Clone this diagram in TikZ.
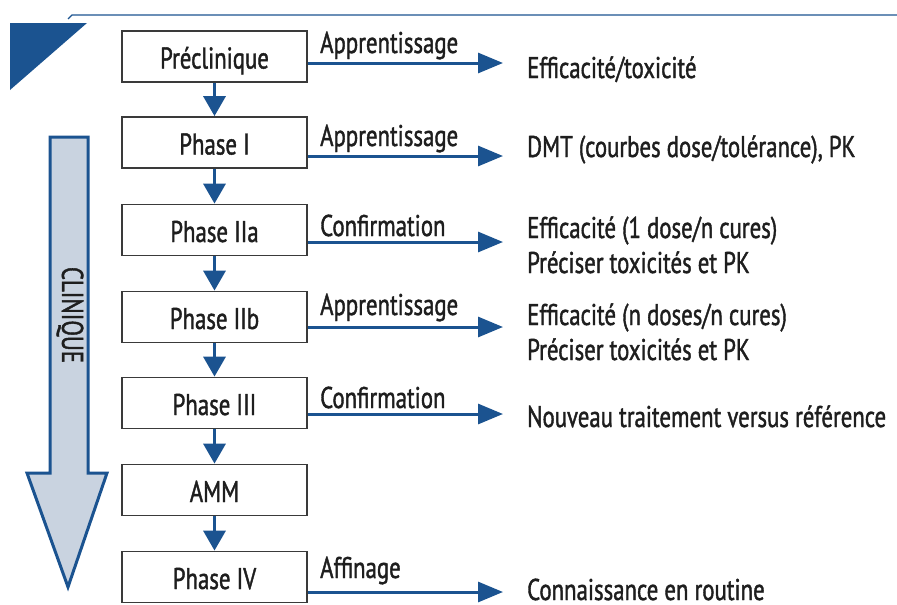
\documentclass[tikz,border=0pt]{standalone}
\usepackage{fontspec}
\setmainfont[FakeStretch=0.76,FakeBold=1.3]{PT Sans}
\usetikzlibrary{arrows.meta}
\definecolor{dblue}{HTML}{1B5390}
\definecolor{lblue}{HTML}{C9D3E0}
\definecolor{txt}{HTML}{1E1E1E}
\definecolor{boxgray}{HTML}{3A3A3A}
\begin{document}
\begin{tikzpicture}[x=1pt,y=-1pt,
  font=\fontsize{30}{35}\selectfont,
  box/.style={draw=boxgray, line width=1.8pt, fill=white, minimum width=185pt, minimum height=51pt, inner sep=0pt, text height=24pt, text depth=0pt, text=txt},
  varrow/.style={draw=dblue, line width=3.5pt, -{Triangle[length=20pt,width=22pt]}},
  harrow/.style={draw=dblue, line width=3pt, -{Triangle[length=25pt,width=20pt]}},
  lab/.style={anchor=base west, inner sep=0pt, text=txt},
  res/.style={anchor=base west, inner sep=0pt, text=txt}]
\useasboundingbox (0,0) rectangle (897,605);
% decorations
\fill[dblue] (10,23) -- (87,23) -- (10,90) -- cycle;
\draw[dblue, line width=1.2pt] (68,19) -- (72,15) -- (897,15);
% big arrow
\draw[dblue, line width=3pt, fill=lblue, line join=miter] (50,137) -- (88,137) -- (88,473) -- (107,473) -- (68,587) -- (27,473) -- (50,473) -- cycle;
\node[rotate=-90, inner sep=0pt, text=txt] (clin) at (70,315) {CLINIQUE};
% boxes
\node[box] (pre) at (214.5,56.5) {Préclinique};
\node[box] (p1)  at (214.5,142.5) {Phase I};
\node[box] (p2a) at (214.5,230) {Phase IIa};
\node[box] (p2b) at (214.5,317) {Phase IIb};
\node[box] (p3)  at (214.5,403) {Phase III};
\node[box] (amm) at (214.5,490) {AMM};
\node[box] (p4)  at (214.5,577) {Phase IV};
% vertical arrows
\draw[varrow] (pre) -- (p1);
\draw[varrow] (p1) -- (p2a);
\draw[varrow] (p2a) -- (p2b);
\draw[varrow] (p2b) -- (p3);
\draw[varrow] (p3) -- (amm);
\draw[varrow] (amm) -- (p4);
% arrow ends
\coordinate (e0) at (503,63);
\coordinate (e1) at (503,156);
\coordinate (e2) at (503,242);
\coordinate (e3) at (503,327);
\coordinate (e4) at (503,414);
\coordinate (e6) at (503,592);
\draw[harrow] (pre.east |- e0) -- (e0);
\draw[harrow] (p1.east |- e1) -- (e1);
\draw[harrow] (p2a.east |- e2) -- (e2);
\draw[harrow] (p2b.east |- e3) -- (e3);
\draw[harrow] (p3.east |- e4) -- (e4);
\draw[harrow] (p4.east |- e6) -- (e6);
% labels
\node[lab] (l0) at (320,53) {Apprentissage};
\node[lab] (l1) at (320,146) {Apprentissage};
\node[lab] (l2) at (320,236) {Confirmation};
\node[lab] (l3) at (320,315) {Apprentissage};
\node[lab] (l4) at (320,408) {Confirmation};
\node[lab] (l6) at (320,578) {Affinage};
% results
\node[res] (r0) at (527,78) {Efficacité/toxicité};
\node[res] (r1) at (527,157) {DMT (courbes dose/tolérance), PK};
\node[res] (r2a) at (527,238) {Efficacité (1 dose/n cures)};
\node[res] (r2b) at (527,273) {Préciser toxicités et PK};
\node[res] (r3a) at (527,325) {Efficacité (n doses/n cures)};
\node[res] (r3b) at (527,360) {Préciser toxicités et PK};
\node[res] (r4) at (527,427) {Nouveau traitement versus référence};
\node[res, text depth=0pt] (r6) at (527,600) {Connaissance en routine};
\end{tikzpicture}
\end{document}
